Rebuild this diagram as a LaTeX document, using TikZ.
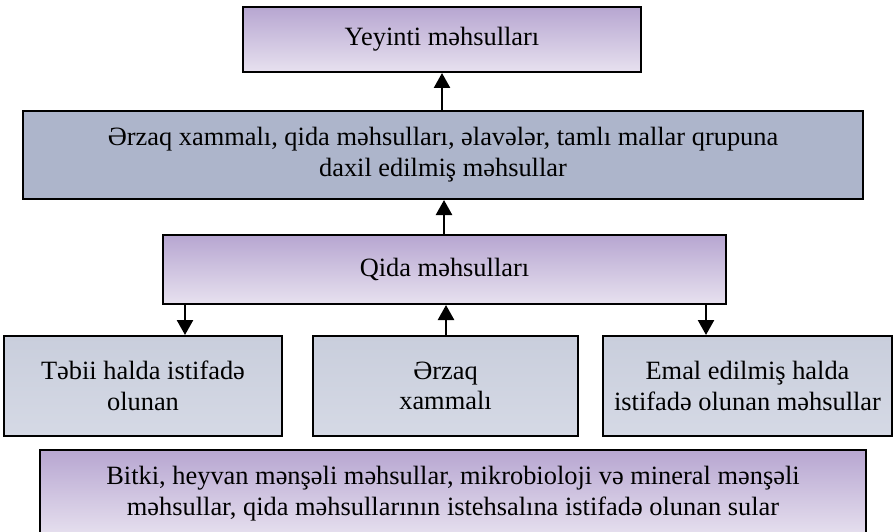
\documentclass[tikz,border=0pt]{standalone}
\usepackage{fontspec}
\setmainfont{Liberation Serif}
\usetikzlibrary{arrows.meta}
\definecolor{purtop}{HTML}{B7A6D1}
\definecolor{purbot}{HTML}{E7E1EF}
\definecolor{slate}{HTML}{ADB5CB}
\definecolor{gtop}{HTML}{C9CEDC}
\definecolor{gbot}{HTML}{D5D9E5}
\tikzset{
  boxbase/.style={draw=black, line width=2pt, inner sep=0pt, align=center,
    font=\fontsize{26.4}{30.4}\selectfont, text=black},
  purbox/.style={boxbase, top color=purtop, bottom color=purbot},
  slatebox/.style={boxbase, fill=slate},
  greybox/.style={boxbase, top color=gtop, bottom color=gbot},
  arr/.style={line width=2.5pt, -{Triangle[length=15pt,width=16pt]}},
}
\begin{document}
\begin{tikzpicture}[x=1pt,y=-1pt]
\useasboundingbox (0,0) rectangle (893,532);
% boxes (pixel geometry of the reference)
\node[purbox, minimum width=398pt, minimum height=65pt] (top) at (442,39.5) {Yeyinti məhsulları};
\node[slatebox, minimum width=840pt, minimum height=88pt] (group) at (443,155)
  {\raisebox{-4pt}{\begin{tabular}{@{}c@{}}Ərzaq xammalı, qida məhsulları, əlavələr, tamlı mallar qrupuna\\daxil edilmiş məhsullar\end{tabular}}};
\node[purbox, minimum width=563pt, minimum height=69pt] (qida) at (444.5,269.5) {Qida məhsulları};
\node[greybox, minimum width=278pt, minimum height=100pt] (left) at (143,386) {Təbii halda istifadə\\olunan};
\node[greybox, minimum width=265pt, minimum height=100pt] (mid) at (445.5,386) {Ərzaq\\xammalı};
\node[greybox, minimum width=289pt, minimum height=100pt] (right) at (747.5,386) {Emal edilmiş halda\\istifadə olunan məhsullar};
\node[purbox, minimum width=826pt, minimum height=87pt] (base) at (453,493.5)
  {Bitki, heyvan mənşəli məhsullar, mikrobioloji və mineral mənşəli\\məhsullar, qida məhsullarının istehsalına istifadə olunan sular};
% arrow positions
\coordinate (xa) at (442,0);
\coordinate (xb) at (444,0);
\coordinate (xc) at (185,0);
\coordinate (xd) at (446,0);
\coordinate (xe) at (706,0);
\draw[arr] (group.north -| xa) -- (top.south -| xa);
\draw[arr] (qida.north -| xb) -- (group.south -| xb);
\draw[arr] (qida.south -| xc) -- (left.north -| xc);
\draw[arr] (mid.north -| xd) -- (qida.south -| xd);
\draw[arr] (qida.south -| xe) -- (right.north -| xe);
\end{tikzpicture}
\end{document}
